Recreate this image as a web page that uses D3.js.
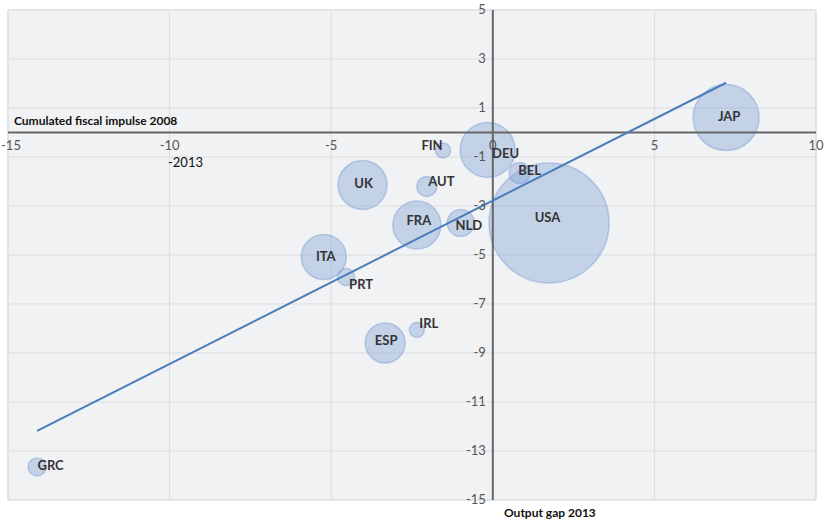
<!DOCTYPE html>
<html><head><meta charset="utf-8">
<script src="https://cdn.jsdelivr.net/npm/d3@7/dist/d3.min.js"></script>
<style>body{margin:0;background:#fff;}svg{display:block;}text{font-family:Lato,"Open Sans",sans-serif;}</style>
</head><body>
<svg id="c" width="829" height="523"></svg>
<script>
const countries = ["GRC","JAP","USA","DEU","BEL","FIN","AUT","UK","FRA","NLD","ITA","PRT","ESP","IRL"];
const outputGap = [-14.1, 7.22, 1.74, -0.16, 0.83, -1.54, -2.04, -4.03, -2.35, -0.99, -5.23, -4.54, -3.33, -2.35];
const fiscalImpulse = [-13.65, 0.61, -3.69, -0.71, -1.65, -0.73, -2.2, -2.14, -3.78, -3.69, -5.08, -5.9, -8.59, -8.06];
const bubbleSize = [9, 33, 60, 27.5, 10.5, 7.5, 10, 24.5, 24, 13.5, 22.5, 8.5, 20, 7.5];
const trendX = [-14.1, 7.22];
const trendY = [-12.18, 2.03];
const xTicks = [-15, -10, -5, 0, 5, 10];
const yTicks = [5, 3, 1, -1, -3, -5, -7, -9, -11, -13, -15];

// label placement (px offsets from bubble centre)
const labelOffset = {GRC:[13.5,-2],JAP:[3,-1],USA:[-1.5,-6],DEU:[18,3],BEL:[10,-3],FIN:[-11,-5],AUT:[14.5,-5],UK:[1,-2],FRA:[2,-5],NLD:[8,2],ITA:[2,-1],PRT:[15,7],ESP:[1,-3],IRL:[12,-7]};

const svg = d3.select("#c");
const x = d3.scaleLinear().domain([-15, 10]).range([8, 816]);
const y = d3.scaleLinear().domain([-15, 5]).range([500, 10]);
const r = d3.scaleLinear().domain([0, 60]).range([0, 60]);

svg.append("rect").attr("x", x(-15)).attr("y", y(5)).attr("width", x(10)-x(-15)).attr("height", y(-15)-y(5))
  .attr("fill", "#f1f2f4").attr("stroke", "#dcdde1").attr("stroke-width", 1);

// grid
svg.append("g").selectAll("line").data(xTicks).join("line")
  .attr("x1", d => x(d)).attr("x2", d => x(d)).attr("y1", y(5)).attr("y2", y(-15))
  .attr("stroke", "#dcdde1").attr("stroke-width", 1);
svg.append("g").selectAll("line").data(yTicks).join("line")
  .attr("x1", x(-15)).attr("x2", x(10)).attr("y1", d => y(d)).attr("y2", d => y(d))
  .attr("stroke", "#dcdde1").attr("stroke-width", 1);

const data = countries.map((c, i) => ({c, gx: outputGap[i], fy: fiscalImpulse[i], s: bubbleSize[i]}));

// bubbles
svg.append("g").selectAll("circle").data(data).join("circle")
  .attr("cx", d => x(d.gx)).attr("cy", d => y(d.fy)).attr("r", d => r(d.s))
  .attr("fill", "rgba(140,170,215,0.45)").attr("stroke", "rgba(120,155,210,0.45)").attr("stroke-width", 1.5);

// axes through zero
svg.append("line").attr("x1", x(-15)).attr("x2", x(10)).attr("y1", y(0)).attr("y2", y(0))
  .attr("stroke", "#666").attr("stroke-width", 2);
svg.append("line").attr("x1", x(0)).attr("x2", x(0)).attr("y1", y(5)).attr("y2", y(-15))
  .attr("stroke", "#666").attr("stroke-width", 2);

// trend line
svg.append("path").datum(trendX.map((v, i) => [v, trendY[i]]))
  .attr("d", d3.line().x(d => x(d[0])).y(d => y(d[1])))
  .attr("fill", "none").attr("stroke", "#4a7ebb").attr("stroke-width", 2);

// tick labels (first one kept inside the page edge)
svg.append("g").selectAll("text").data(xTicks).join("text")
  .attr("x", d => Math.max(x(d), 11)).attr("y", y(0) + 17).attr("text-anchor", "middle")
  .attr("font-size", 13).attr("fill", "#555").text(d => d);
svg.append("g").selectAll("text").data(yTicks).join("text")
  .attr("x", x(0) - 7).attr("y", d => y(d) + 3.5).attr("text-anchor", "end")
  .attr("font-size", 13).attr("fill", "#555").text(d => d);

// bubble labels
svg.append("g").selectAll("text").data(data).join("text")
  .attr("x", d => x(d.gx) + labelOffset[d.c][0]).attr("y", d => y(d.fy) + labelOffset[d.c][1] + 4.7)
  .attr("text-anchor", "middle").attr("font-size", 13).attr("font-weight", "bold").attr("fill", "#333")
  .text(d => d.c);

// axis titles
svg.append("text").attr("x", 14).attr("y", 125).attr("font-size", 12).attr("font-weight", "bold").attr("fill", "#111")
  .text("Cumulated fiscal impulse 2008");
svg.append("text").attr("x", 168).attr("y", 166.5).attr("font-size", 13).attr("fill", "#111").text("-2013");
svg.append("text").attr("x", 504).attr("y", 517).attr("font-size", 12).attr("font-weight", "bold").attr("fill", "#111")
  .text("Output gap 2013");
</script>
</body></html>
